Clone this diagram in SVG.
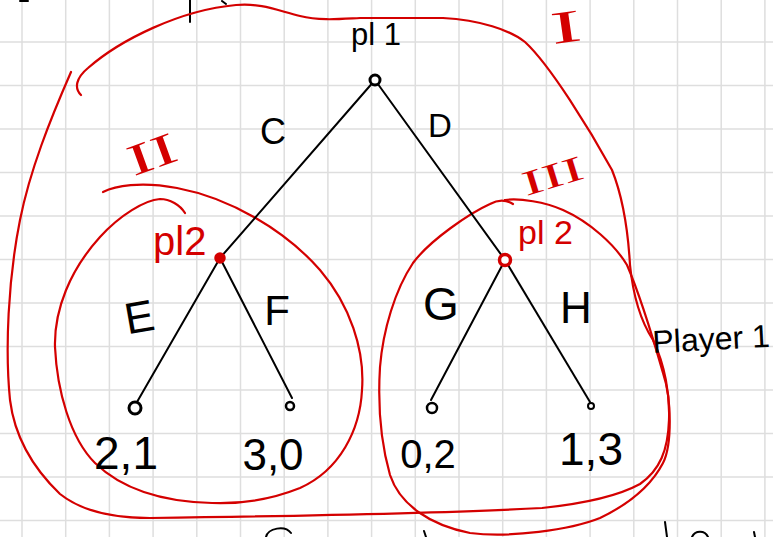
<svg xmlns="http://www.w3.org/2000/svg" width="773" height="537" viewBox="0 0 773 537">
<style>
.grid{stroke:#dedede;stroke-width:1.5;fill:none}
.red{stroke:#d40000;stroke-width:2.2;fill:none;stroke-linecap:round;stroke-linejoin:round}
.edge{stroke:#000;stroke-width:2;fill:none;stroke-linecap:round}
.ink{stroke:#000;stroke-width:2;fill:none;stroke-linecap:round}
.t{font-family:"Liberation Sans",Arial,sans-serif;fill:#000}
.tr{font-family:"Liberation Sans",Arial,sans-serif;fill:#d40000}
.rom{font-family:"Liberation Serif","Times New Roman",serif;fill:#d40000;text-anchor:middle}
.leaf{stroke:#000;fill:#fff}
</style>
<rect width="773" height="537" fill="#fff"/>
<g id="grid">
<path class="grid" d="M22 0V537M65.7 0V537M109.4 0V537M153.1 0V537M196.8 0V537M240.5 0V537M284.2 0V537M327.9 0V537M371.6 0V537M415.3 0V537M459 0V537M502.7 0V537M546.4 0V537M590.1 0V537M633.8 0V537M677.5 0V537M721.2 0V537M764.9 0V537M0 42H773M0 85.5H773M0 129H773M0 172.5H773M0 216H773M0 259.5H773M0 303H773M0 346.5H773M0 390H773M0 433.5H773M0 477H773M0 520.5H773"/>
</g>
<g id="fragments">
<path class="ink" d="M190 0V22M222 1L226 4M20 1L28 1M266 537C268 528 285 525 291 533M424 531L426 537M665 522L667 537M692 537C695 530 705 530 708 537M754 532L755 537"/>
</g>
<g id="info-sets">
<g id="set-I">
<path class="red" d="M81 95C74 88 76 78 88 68C120 40 180 10 236 5C262 3 276 10 300 16C320 21 340 19 360 18L443 18C480 20 510 30 525 42C550 65 590 130 612 170C622 195 628 230 630 265C633 295 640 320 653 340C665 365 670 395 669 420C668 450 660 470 640 484C620 495 590 503 542 508C450 513 300 516 150 518C110 518 80 510 60 494C35 470 15 440 10 400C5 350 8 280 20 220C30 170 50 120 71 72"/>
<text class="rom" font-size="46" transform="translate(568,42) rotate(-8) scale(2,1)">I</text>
</g>
<g id="set-II">
<path class="red" d="M103 192C115 186 140 181 177 188C230 198 285 230 320 270C350 305 365 350 362 390C360 430 340 470 300 488C270 500 240 504 212 503C170 502 125 492 95 463C70 438 57 390 55 347C54 310 70 270 100 237C120 215 145 200 160 199C170 199 180 205 185 213"/>
<text class="rom" font-size="44" transform="translate(157,168) rotate(-20) scale(1.7,1)">II</text>
</g>
<g id="set-III">
<path class="red" d="M513 204C505 199 497 200 490 204C470 213 430 240 413 263C395 290 383 330 380 367C378 400 380 440 390 475C400 505 430 525 470 533C510 538 570 530 600 518C625 506 650 488 663 463C672 445 672 400 663 373C655 345 640 295 627 265C615 245 590 222 563 210C545 202 520 198 505 200"/>
<text class="rom" font-size="35" transform="translate(556,187) rotate(-17) scale(1.8,1)">III</text>
</g>
</g>
<g id="connectors">
<line class="edge" x1="375" y1="80" x2="220" y2="258"/>
<line class="edge" x1="375" y1="80" x2="505" y2="260"/>
<line class="edge" x1="220" y1="258" x2="137" y2="402"/>
<line class="edge" x1="220" y1="258" x2="292" y2="398"/>
<line class="edge" x1="505" y1="260" x2="431" y2="400"/>
<line class="edge" x1="505" y1="260" x2="590" y2="402"/>
<text class="t" font-size="36" text-anchor="middle" x="273" y="144">C</text>
<text class="t" font-size="33" text-anchor="middle" x="440" y="137">D</text>
<text class="t" font-size="44" text-anchor="middle" transform="translate(142,332) rotate(-10)">E</text>
<text class="t" font-size="42" text-anchor="middle" x="277" y="325">F</text>
<text class="t" font-size="46" text-anchor="middle" x="441" y="320">G</text>
<text class="t" font-size="44" text-anchor="middle" x="576" y="323">H</text>
</g>
<g id="node-root">
<circle cx="375" cy="80" r="5" stroke="#000" stroke-width="3" fill="#fff"/>
<text class="t" font-size="31" x="351" y="45">pl 1</text>
</g>
<g id="node-pl2-left">
<circle cx="220" cy="258" r="4.5" stroke="#d40000" stroke-width="2.5" fill="#d40000"/>
<text class="tr" font-size="40" x="153" y="255">pl2</text>
</g>
<g id="node-pl2-right">
<circle cx="505" cy="260" r="5.5" stroke="#d40000" stroke-width="3.5" fill="#fff"/>
<text class="tr" font-size="34" x="518" y="244">pl 2</text>
</g>
<g id="leaf-EE">
<circle class="leaf" cx="135" cy="408" r="6" stroke-width="3"/>
<text class="t" font-size="46" text-anchor="middle" x="126" y="469">2,1</text>
</g>
<g id="leaf-F">
<circle class="leaf" cx="290" cy="406" r="4" stroke-width="2.5"/>
<text class="t" font-size="44" text-anchor="middle" x="273" y="470">3,0</text>
</g>
<g id="leaf-G">
<circle class="leaf" cx="432" cy="408" r="5" stroke-width="2.5"/>
<text class="t" font-size="40" text-anchor="middle" x="428" y="468">0,2</text>
</g>
<g id="leaf-H">
<circle class="leaf" cx="591" cy="406" r="3" stroke-width="2"/>
<text class="t" font-size="46" text-anchor="middle" x="591" y="465">1,3</text>
</g>
<g id="note">
<text class="t" font-size="32" transform="translate(653,353) rotate(-3)">Player 1</text>
</g>
</svg>
